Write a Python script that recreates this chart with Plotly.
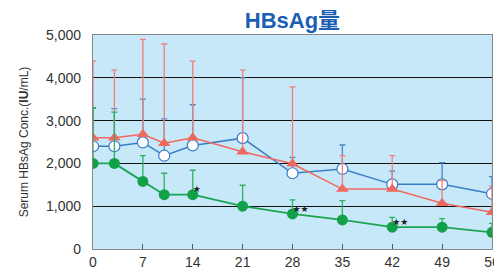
import plotly.graph_objects as go

days = [0, 3, 7, 10, 14, 21, 28, 35, 42, 49, 56]
blue_mean = [2400, 2400, 2490, 2180, 2420, 2590, 1770, 1870, 1510, 1510, 1290]
blue_upper = [3290, 3280, 3500, 3040, 3370, 4000, 2140, 2430, 1820, 2020, 1690]
red_mean = [2600, 2600, 2680, 2470, 2600, 2270, 1990, 1400, 1400, 1070, 860]
red_upper = [4390, 4180, 4900, 4790, 4390, 4180, 3790, 2180, 2180, 1600, 1460]
green_mean = [2000, 2000, 1580, 1270, 1270, 1000, 820, 680, 510, 510, 390]
green_upper = [3300, 3200, 2180, 1770, 1840, 1490, 1150, 1130, 740, 710, 600]
star_days = [14, 28, 42, 56]
star_labels = ["★", "★★", "★★", "★★"]
x_ticks = [0, 7, 14, 21, 28, 35, 42, 49, 56]
y_ticks = [0, 1000, 2000, 3000, 4000, 5000]
y_tick_text = ["0", "1,000", "2,000", "3,000", "4,000", "5,000"]

FONT = "Liberation Sans, Arial, Noto Sans CJK JP, sans-serif"

def err(mean, upper):
    return [u - m for m, u in zip(mean, upper)]

fig = go.Figure()

fig.add_trace(go.Scatter(
    x=days, y=blue_mean, mode="lines+markers",
    line=dict(color="#3a7cc8", width=1.5),
    marker=dict(symbol="circle", size=11, color="white",
                line=dict(color="#3a7cc8", width=1.2)),
    error_y=dict(type="data", symmetric=False, array=err(blue_mean, blue_upper),
                 arrayminus=[0] * len(days), color="#4a86cc", thickness=1.3, width=3),
    showlegend=False,
))
fig.add_trace(go.Scatter(
    x=days, y=red_mean, mode="lines+markers",
    line=dict(color="#f0695e", width=1.5),
    marker=dict(symbol="triangle-up", size=11, color="#f0695e"),
    error_y=dict(type="data", symmetric=False, array=err(red_mean, red_upper),
                 arrayminus=[0] * len(days), color="#f08078", thickness=1.3, width=3),
    showlegend=False,
))
fig.add_trace(go.Scatter(
    x=days, y=green_mean, mode="lines+markers",
    line=dict(color="#1aa550", width=1.8),
    marker=dict(symbol="circle", size=11, color="#12a048"),
    error_y=dict(type="data", symmetric=False, array=err(green_mean, green_upper),
                 arrayminus=[0] * len(days), color="#30b060", thickness=1.3, width=3),
    showlegend=False,
))

star_y = [green_mean[days.index(d)] for d in star_days]
fig.add_trace(go.Scatter(
    x=star_days, y=star_y, mode="text", text=star_labels,
    textposition="top right", cliponaxis=True,
    textfont=dict(size=9, color="#222222", family="DejaVu Sans"),
    showlegend=False,
))

fig.update_layout(
    width=494, height=270,
    margin=dict(l=93, r=2, t=35, b=21, autoexpand=False),
    paper_bgcolor="white",
    plot_bgcolor="#c6e8f8",
    font=dict(family=FONT, size=14, color="#333333"),
    title=dict(text="<b>HBsAg量</b>", x=0.592, xanchor="center", y=0.925, yanchor="middle",
               font=dict(size=22, color="#1a5fb4", family=FONT)),
    xaxis=dict(range=[0, 56], tickvals=x_ticks, ticks="inside", ticklen=5,
               tickcolor="#555555", showgrid=False, zeroline=False,
               showline=True, linecolor="#888888", linewidth=1.2, mirror=True,
               ticklabeloverflow="allow", automargin=False,
               tickfont=dict(size=14, color="#333333")),
    yaxis=dict(range=[0, 5000], tickvals=y_ticks, ticktext=y_tick_text, ticks="",
               showgrid=True, gridcolor="#111111", gridwidth=1, zeroline=False,
               showline=True, linecolor="#888888", linewidth=1.2, mirror=True,
               ticklabelstandoff=8, automargin=False,
               tickfont=dict(size=14, color="#333333"),
               title=dict(text="Serum HBsAg Conc.(<b>IU</b>/mL)", standoff=14,
                          font=dict(size=12, color="#333333"))),
)

fig.write_html("out.html", config={"displayModeBar": False},
               post_script="document.body.style.margin='0';document.body.style.overflow='hidden';")
